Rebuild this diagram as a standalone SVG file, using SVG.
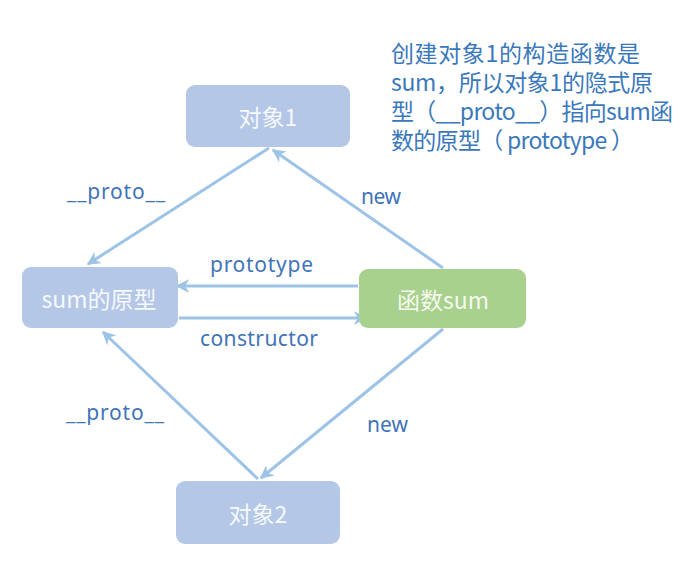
<svg xmlns="http://www.w3.org/2000/svg" width="686" height="570" viewBox="0 0 686 570">
<defs>
<style>
.box{fill:#b4c7e7;}
.green{fill:#a9d18e;}
.nt{font-family:"Noto Sans CJK SC","Noto Sans",sans-serif;font-size:23px;fill:#ffffff;fill-opacity:0.9;text-anchor:middle;dominant-baseline:central;}
.lbl{font-family:"Noto Sans","Noto Sans CJK SC",sans-serif;font-size:21px;fill:#3f74b8;}
.note{font-family:"Noto Sans CJK SC","Noto Sans",sans-serif;font-size:23px;fill:#3a78bc;}
.c{stroke:#9dc3e6;stroke-width:3;fill:none;marker-end:url(#ah);}
</style>
<marker id="ah" viewBox="0 0 10 10" refX="9" refY="5" markerWidth="4.5" markerHeight="4.5" orient="auto" markerUnits="strokeWidth">
<path d="M0,0 L10,5 L0,10 L3,5 Z" fill="#9dc3e6"/>
</marker>
</defs>
<rect width="686" height="570" fill="#ffffff"/>
<g id="connectors">
<line class="c" x1="269" y1="148" x2="88" y2="264"/>
<line class="c" x1="443" y1="268" x2="273" y2="150"/>
<line class="c" x1="358" y1="286" x2="177" y2="286"/>
<line class="c" x1="179" y1="318" x2="366" y2="318"/>
<line class="c" x1="258" y1="479" x2="103" y2="332"/>
<line class="c" x1="443" y1="329" x2="261" y2="478"/>
</g>
<g id="labels">
<text class="lbl" x="67" y="199" textLength="98" lengthAdjust="spacing">__proto__</text>
<text class="lbl" x="361" y="204" textLength="40" lengthAdjust="spacing">new</text>
<text class="lbl" x="210" y="272" textLength="103" lengthAdjust="spacing">prototype</text>
<text class="lbl" x="200" y="346" textLength="118" lengthAdjust="spacing">constructor</text>
<text class="lbl" x="66" y="420" textLength="98" lengthAdjust="spacing">__proto__</text>
<text class="lbl" x="367" y="432" textLength="41" lengthAdjust="spacing">new</text>
</g>
<g id="node-obj1">
<rect class="box" x="186" y="85" width="164" height="62" rx="9"/>
<text class="nt" x="268" y="116">对象1</text>
</g>
<g id="node-proto">
<rect class="box" x="22" y="267" width="156" height="61" rx="9"/>
<text class="nt" x="99" y="298">sum的原型</text>
</g>
<g id="node-sum">
<rect class="green" x="359" y="269" width="167" height="59" rx="9"/>
<text class="nt" x="443" y="299">函数sum</text>
</g>
<g id="node-obj2">
<rect class="box" x="176" y="481" width="164" height="63" rx="9"/>
<text class="nt" x="258" y="513">对象2</text>
</g>
<g id="note">
<text class="note" x="391" y="62" textLength="249" lengthAdjust="spacing">创建对象1的构造函数是</text>
<text class="note" x="391" y="91" textLength="262" lengthAdjust="spacing">sum，所以对象1的隐式原</text>
<text class="note" x="391" y="120" textLength="282" lengthAdjust="spacing">型（__proto__）指向sum函</text>
<text class="note" x="391" y="149" textLength="243" lengthAdjust="spacing">数的原型（ prototype ）</text>
</g>
</svg>
